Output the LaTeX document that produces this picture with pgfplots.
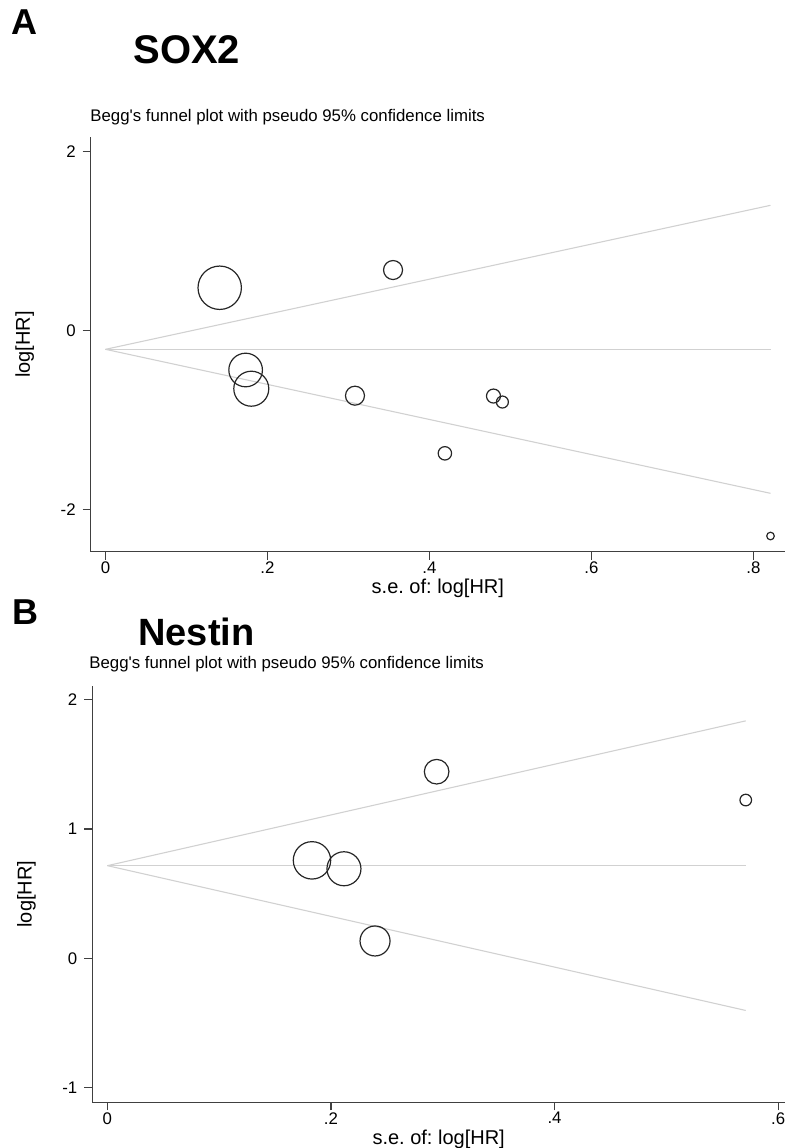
\documentclass[border=0pt]{standalone}
\usepackage{fontspec}
\setmainfont{Liberation Sans}[Ligatures=TeXOff]
\usepackage{pgfplots}
\pgfplotsset{compat=1.18}
\usepackage{pgfplotstable}
\frenchspacing

% SOX2: s.e. of log[HR], log[HR], marker radius (pt)
\pgfplotstableread{
se    lhr     r
0.141  0.480  10.85
0.173 -0.439  8.4
0.180 -0.648  8.75
0.308 -0.726  4.75
0.355  0.678  4.75
0.419 -1.370  3.35
0.479 -0.730  3.5
0.490 -0.797  3.0
0.821 -2.294  1.9
}\soxdata

\pgfplotstableread{
se     lhr    r
0.183  0.757  9.35
0.2116 0.692  8.5
0.2394 0.134  7.5
0.2945 1.442  6.15
0.571  1.223  2.9
}\nestindata

% funnel lines: centre and pseudo 95% limits
\pgfplotstableread{
x      c       lo      hi
0      -0.208  -0.208  -0.208
0.821  -0.208  -1.817   1.401
}\soxfunnel

\pgfplotstableread{
x      c      lo      hi
0      0.716  0.716   0.716
0.571  0.716  -0.403  1.835
}\nestinfunnel

\newcommand{\begg}{Begg's funnel plot with pseudo 95\% confidence limits}

\pgfplotsset{
  funnelaxis/.style={
    scale only axis,
    axis lines*=left,
    axis line style={-, draw=black!75, line width=0.65pt},
    tick align=outside,
    major tick length=4pt,
    minor tick num=0,
    tick style={draw=black!75, line width=0.6pt},
    tick label style={font=\fontsize{8.4}{10}\selectfont, text=black},
    label style={font=\fontsize{8.4}{10}\selectfont, text=black},
    every axis y label/.style={at={(axis description cs:-0.095,0.5)}, rotate=90, anchor=center},
    every axis x label/.style={at={(axis description cs:0.5,-0.088)}, anchor=center},
    xlabel={s.e. of: log[HR]},
    ylabel={log[HR]},
    xticklabel style={yshift=2.5pt},
  },
  funnelline/.style={draw=black!18, line width=0.55pt, no markers},
  studies/.style={
    scatter, only marks, mark=o,
    line width=0.6pt,
    scatter/use mapped color={draw=black!85},
    visualization depends on={\thisrow{r} \as \rad},
    scatter/@pre marker code/.append style={/tikz/mark size=\rad},
  },
}

\begin{document}
\begin{tikzpicture}
\useasboundingbox (0,0) rectangle (392.5pt,-574pt);

% ---- Panel A ----
\node[anchor=base west, inner sep=0, font=\fontsize{18}{18}\selectfont\bfseries] at (5.5pt,-17pt) {A};
\node[anchor=base west, inner sep=0, font=\fontsize{20}{20}\selectfont\bfseries] at (66.5pt,-31.5pt) {SOX2};
\node[anchor=base west, inner sep=0, font=\fontsize{8.4}{10}\selectfont] at (45pt,-60.75pt) {\begg};

\begin{axis}[funnelaxis,
  at={(45.35pt,-275.85pt)}, anchor=south west,
  width=347.15pt, height=207.35pt,
  xmin=-0.01827, xmax=0.83889,
  ymin=-2.4693, ymax=2.1642,
  xtick={0,0.2,0.4,0.6,0.8}, xticklabels={0,.2,.4,.6,.8},
  ytick={-2,0,2}, yticklabels={-2,0,2},
]
\addplot[funnelline] table[x=x,y=c] {\soxfunnel};
\addplot[funnelline] table[x=x,y=lo] {\soxfunnel};
\addplot[funnelline] table[x=x,y=hi] {\soxfunnel};
\addplot[studies] table[x=se,y=lhr] {\soxdata};
\end{axis}

% ---- Panel B ----
\node[anchor=base west, inner sep=0, font=\fontsize{18}{18}\selectfont\bfseries] at (6pt,-312pt) {B};
\node[anchor=base west, inner sep=0, font=\fontsize{19}{19}\selectfont\bfseries] at (69pt,-322.5pt) {Nestin};
\node[anchor=base west, inner sep=0, font=\fontsize{8.4}{10}\selectfont] at (44.5pt,-334pt) {\begg};

\begin{axis}[funnelaxis,
  at={(46.15pt,-551.15pt)}, anchor=south west,
  width=346.35pt, height=208.15pt,
  xmin=-0.01351, xmax=0.6061,
  ymin=-1.1128, ymax=2.1043,
  xtick={0,0.2,0.4,0.6}, xticklabels={0,.2,.4,.6},
  ytick={-1,0,1,2}, yticklabels={-1,0,1,2},
]
\addplot[funnelline] table[x=x,y=c] {\nestinfunnel};
\addplot[funnelline] table[x=x,y=lo] {\nestinfunnel};
\addplot[funnelline] table[x=x,y=hi] {\nestinfunnel};
\addplot[studies] table[x=se,y=lhr] {\nestindata};
\end{axis}
\end{tikzpicture}
\end{document}
